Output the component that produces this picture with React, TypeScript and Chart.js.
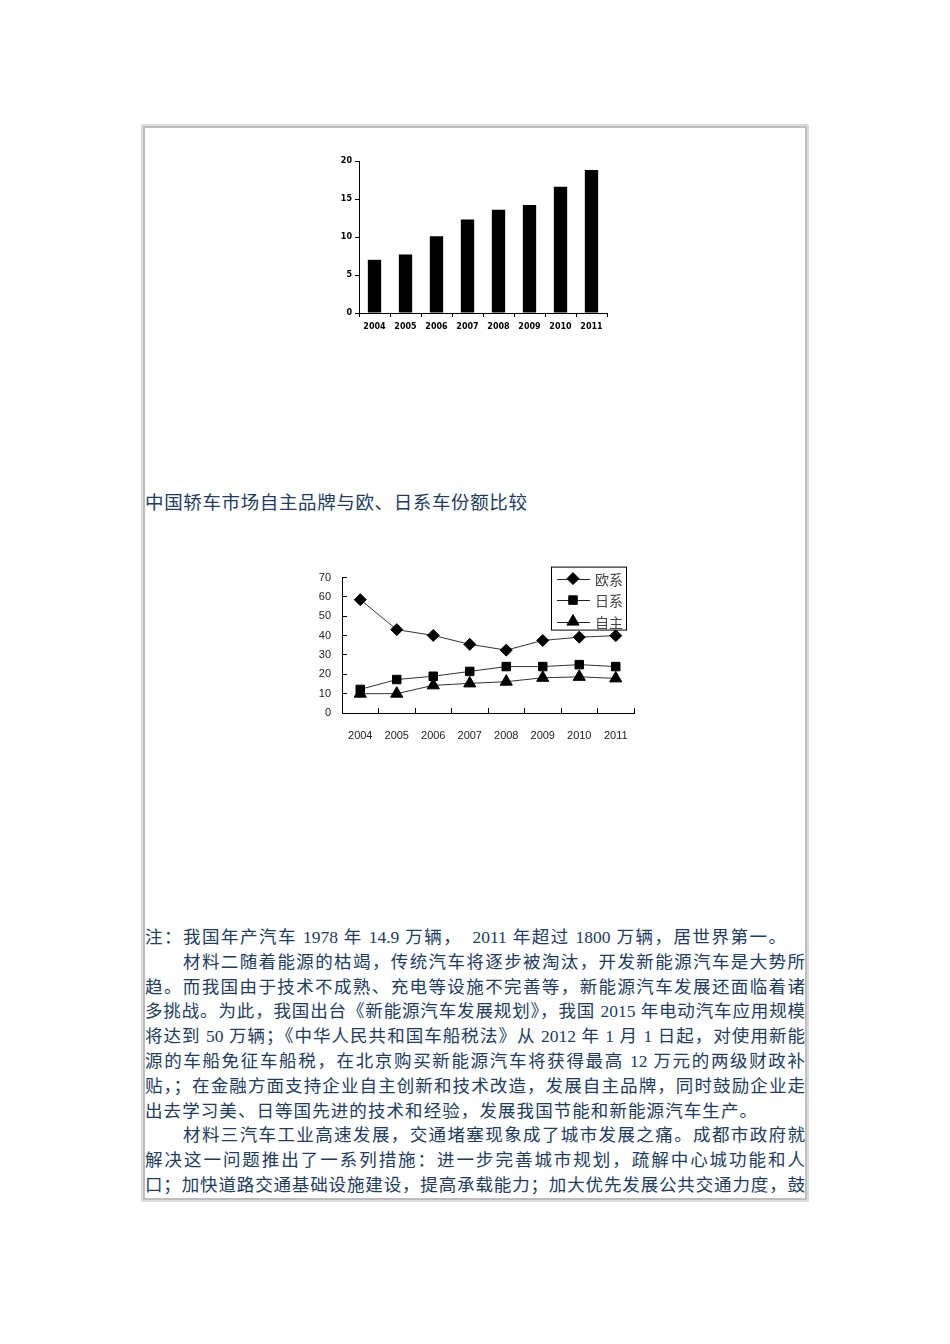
import React, { useEffect, useRef } from 'react';
import { Chart, registerables } from 'chart.js';
import { drawPoint } from 'chart.js/helpers';

Chart.register(...registerables);

// bar chart: yearly output (million vehicles)
const years = ['2004', '2005', '2006', '2007', '2008', '2009', '2010', '2011'];
const outputValues = [7.0, 7.7, 10.1, 12.3, 13.6, 14.2, 16.6, 18.8];
const outputTicks = [0, 5, 10, 15, 20];

// line chart: market share (%)
const seriesNames = ['欧系', '日系', '自主'];
const euroShare = [58.6, 43.1, 40.1, 35.5, 32.5, 37.5, 39.2, 40.0];
const japanShare = [12.2, 17.3, 19.0, 21.5, 24.0, 24.0, 25.0, 24.0];
const ownShare = [10.0, 10.0, 14.3, 15.3, 16.2, 18.2, 18.7, 17.9];
const shareTicks = [0, 10, 20, 30, 40, 50, 60, 70];
const seriesMarkers = ['rectRot', 'rect', 'triangle'];
const markerSizes = [6, 6, 7];

const caption = '中国轿车市场自主品牌与欧、日系车份额比较';
const bodyLines = [
  '注：我国年产汽车 1978 年 14.9 万辆，　2011 年超过 1800 万辆，居世界第一。',
  '材料二随着能源的枯竭，传统汽车将逐步被淘汰，开发新能源汽车是大势所',
  '趋。而我国由于技术不成熟、充电等设施不完善等，新能源汽车发展还面临着诸',
  '多挑战。为此，我国出台《新能源汽车发展规划》，我国 2015 年电动汽车应用规模',
  '将达到 50 万辆；《中华人民共和国车船税法》从 2012 年 1 月 1 日起，对使用新能',
  '源的车船免征车船税，在北京购买新能源汽车将获得最高 12 万元的两级财政补',
  '贴，；在金融方面支持企业自主创新和技术改造，发展自主品牌，同时鼓励企业走',
  '出去学习美、日等国先进的技术和经验，发展我国节能和新能源汽车生产。',
  '材料三汽车工业高速发展，交通堵塞现象成了城市发展之痛。成都市政府就',
  '解决这一问题推出了一系列措施：进一步完善城市规划，疏解中心城功能和人',
  '口；加快道路交通基础设施建设，提高承载能力；加大优先发展公共交通力度，鼓',
];
// line index -> [indent, width]
const lineWidths = [641, 660, 660, 660, 660, 660, 660, 612, 660, 660, 660];
const indented = [1, 8];

const TEXT_COLOR = '#223c5e';

const boxLegend = {
  id: 'boxLegend',
  afterDraw(chart: any) {
    const { ctx, chartArea } = chart;
    const left = chartArea.right - 83;
    const top = chartArea.top - 11;
    const w = 75;
    const h = 63;
    ctx.save();
    ctx.fillStyle = '#fff';
    ctx.fillRect(left, top, w, h);
    ctx.strokeStyle = '#000';
    ctx.lineWidth = 1;
    ctx.strokeRect(left + 0.5, top + 0.5, w, h);
    ctx.beginPath();
    ctx.rect(left, top, w, h);
    ctx.clip();
    chart.data.datasets.forEach((ds: any, i: number) => {
      const y = top + 12 + i * 21.5;
      ctx.strokeStyle = '#222';
      ctx.lineWidth = 1;
      ctx.beginPath();
      ctx.moveTo(left + 6, Math.round(y) + 0.5);
      ctx.lineTo(left + 39, Math.round(y) + 0.5);
      ctx.stroke();
      ctx.fillStyle = '#000';
      ctx.strokeStyle = '#000';
      drawPoint(ctx, { pointStyle: ds.pointStyle, radius: ds.pointRadius, rotation: 0, borderWidth: 1 }, left + 22, y);
      ctx.fillStyle = '#444';
      ctx.font = '14px "Noto Sans CJK SC"';
      ctx.textBaseline = 'middle';
      ctx.textAlign = 'left';
      ctx.fillText(ds.label, left + 44, y + 1);
    });
    ctx.restore();
  },
};

function OutputBar() {
  const ref = useRef<HTMLCanvasElement | null>(null);
  useEffect(() => {
    if (!ref.current) return;
    const tickFont = { family: 'DejaVu Sans', size: 8, weight: 'bold' as const };
    const chart = new Chart(ref.current, {
      type: 'bar',
      data: {
        labels: years,
        datasets: [{ data: outputValues, backgroundColor: '#000', barPercentage: 0.43, categoryPercentage: 1 }],
      },
      options: {
        responsive: false,
        animation: false,
        layout: { padding: { top: 11, right: 13, left: 0, bottom: 0 } },
        plugins: { legend: { display: false }, tooltip: { enabled: false } },
        scales: {
          x: {
            offset: true,
            grid: { offset: true, drawOnChartArea: false, tickLength: 4, color: '#000' },
            border: { color: '#000', width: 1 },
            ticks: { padding: 5, font: tickFont, color: '#000', maxRotation: 0, autoSkip: false },
            afterFit: (s: any) => { s.height = 27; },
          },
          y: {
            min: 0,
            max: 20,
            afterBuildTicks: (s: any) => { s.ticks = outputTicks.map(v => ({ value: v })); },
            grid: { drawOnChartArea: false, tickLength: 4, color: '#000' },
            border: { color: '#000', width: 1 },
            ticks: { padding: 3, font: tickFont, color: '#000' },
            afterFit: (s: any) => { s.width = 39; },
          },
        },
      },
    });
    return () => chart.destroy();
  }, []);
  return <canvas ref={ref} width={300} height={190} style={{ position: 'absolute', left: 320, top: 150, width: 300, height: 190 }} />;
}

function ShareLine() {
  const ref = useRef<HTMLCanvasElement | null>(null);
  useEffect(() => {
    if (!ref.current) return;
    const tickFont = { family: 'Liberation Sans', size: 11 };
    const series = [euroShare, japanShare, ownShare];
    const chart = new Chart(ref.current, {
      type: 'line',
      data: {
        labels: years,
        datasets: series.map((d, i) => ({
          label: seriesNames[i],
          data: d,
          borderColor: '#333',
          borderWidth: 1,
          pointStyle: seriesMarkers[i] as any,
          pointRadius: markerSizes[i],
          pointBackgroundColor: '#000',
          pointBorderColor: '#000',
          pointBorderWidth: 1,
          tension: 0,
        })),
      },
      options: {
        responsive: false,
        animation: false,
        layout: { padding: { top: 19, right: 16, left: 0, bottom: 0 } },
        plugins: { legend: { display: false }, tooltip: { enabled: false } },
        scales: {
          x: {
            offset: true,
            grid: { offset: true, drawOnChartArea: false, tickLength: -5, color: '#000' },
            border: { color: '#000', width: 1 },
            ticks: { padding: 21, font: tickFont, color: '#222', maxRotation: 0, autoSkip: false },
            afterFit: (s: any) => { s.height = 42; },
          },
          y: {
            min: 0,
            max: 70,
            afterBuildTicks: (s: any) => { s.ticks = shareTicks.map(v => ({ value: v })); },
            grid: { drawOnChartArea: false, tickLength: -5, color: '#000' },
            border: { color: '#000', width: 1 },
            ticks: { padding: 16, font: tickFont, color: '#222' },
            afterFit: (s: any) => { s.width = 42; },
          },
        },
      },
      plugins: [boxLegend],
    });
    return () => chart.destroy();
  }, []);
  return <canvas ref={ref} width={350} height={200} style={{ position: 'absolute', left: 300, top: 555, width: 350, height: 200 }} />;
}

export default function App() {
  return (
    <div style={{ position: 'absolute', left: 0, top: 0, width: 950, height: 1344, background: '#fff' }}>
      <div
        style={{
          position: 'absolute', left: 141, top: 124, width: 668, height: 1078, boxSizing: 'border-box',
          border: '2px solid #dcdcdc', boxShadow: 'inset 0 0 0 2px #bdbdbd',
        }}
      />
      <OutputBar />
      <div
        style={{
          position: 'absolute', left: 145, top: 488, width: 382, fontSize: 18.5, lineHeight: '26px',
          fontFamily: '"Noto Sans CJK SC", sans-serif', color: TEXT_COLOR, textAlign: 'justify', textAlignLast: 'justify',
          whiteSpace: 'nowrap',
        }}
      >
        {caption}
      </div>
      <ShareLine />
      <div
        style={{
          position: 'absolute', left: 145, top: 925, fontSize: 17.5, lineHeight: '24.8px',
          fontFamily: '"Liberation Serif", "Noto Sans CJK SC", serif', color: TEXT_COLOR,
        }}
      >
        {bodyLines.map((t, i) => (
          <div
            key={i}
            style={{
              width: lineWidths[i], boxSizing: 'border-box', paddingLeft: indented.includes(i) ? 38 : 0,
              textAlign: 'justify', textAlignLast: 'justify', whiteSpace: 'nowrap', overflow: 'visible',
            }}
          >
            {t}
          </div>
        ))}
      </div>
    </div>
  );
}
